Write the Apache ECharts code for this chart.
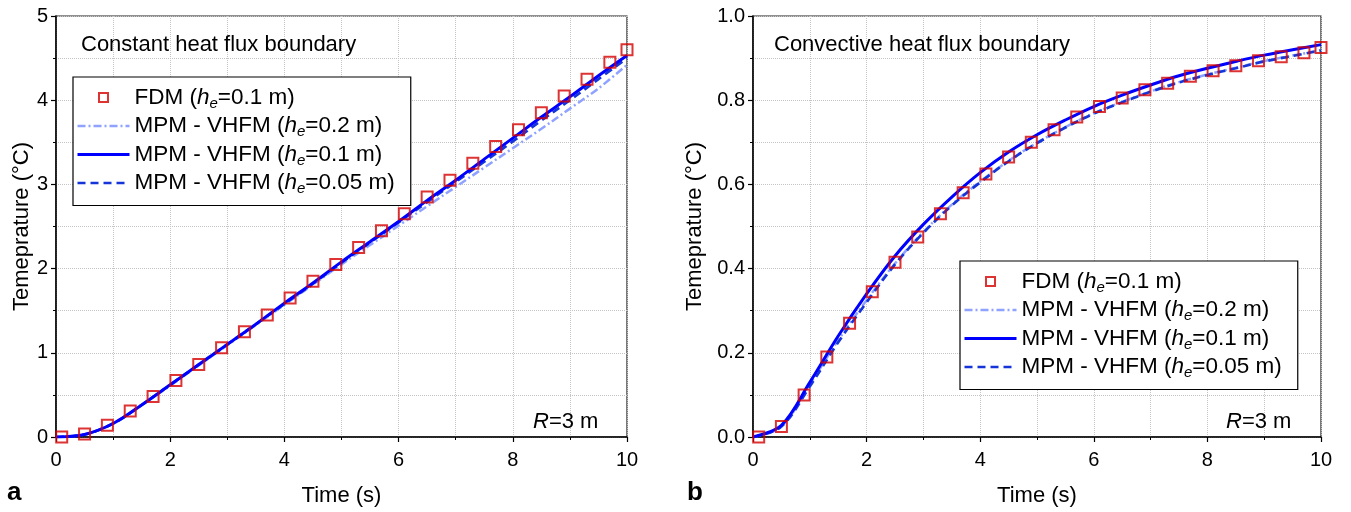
<!DOCTYPE html>
<html><head><meta charset="utf-8">
<script src="https://cdn.jsdelivr.net/npm/echarts@6/dist/echarts.min.js"></script>
<style>html,body{margin:0;padding:0;background:#fff}#c{width:1351px;height:512px}</style>
</head><body><div id="c"></div>
<script>
// ---- data ----
const tFDM = [0.1,0.5,0.9,1.3,1.7,2.1,2.5,2.9,3.3,3.7,4.1,4.5,4.9,5.3,5.7,6.1,6.5,6.9,7.3,7.7,8.1,8.5,8.9,9.3,9.7,10];
const fdmA = [0,0.035,0.14,0.31,0.48,0.67,0.86,1.06,1.25,1.45,1.65,1.85,2.05,2.25,2.45,2.65,2.85,3.05,3.25,3.45,3.65,3.85,4.05,4.25,4.45,4.6];
const fdmB = [0,0.025,0.10,0.19,0.27,0.345,0.415,0.475,0.53,0.58,0.625,0.665,0.70,0.73,0.76,0.785,0.805,0.825,0.84,0.857,0.87,0.882,0.894,0.903,0.913,0.925];
const tLine = [0,0.5,1,1.5,2,2.5,3,3.5,4,4.5,5,5.5,6,6.5,7,7.5,8,8.5,9,9.5,10];
const a02  = [0,0.03,0.16,0.38,0.61,0.85,1.09,1.33,1.57,1.81,2.05,2.28,2.51,2.74,2.97,3.2,3.43,3.66,3.9,4.14,4.42];
const a01  = [0,0.03,0.16,0.38,0.62,0.86,1.1,1.34,1.59,1.83,2.08,2.32,2.56,2.81,3.05,3.3,3.55,3.8,4.04,4.29,4.53];
const a005 = [0,0.03,0.16,0.38,0.62,0.86,1.1,1.34,1.58,1.82,2.07,2.31,2.55,2.79,3.03,3.27,3.51,3.76,4.0,4.25,4.5];
const b02  = [0,0.025,0.125,0.23,0.325,0.412,0.487,0.552,0.607,0.656,0.699,0.736,0.769,0.796,0.821,0.843,0.861,0.877,0.893,0.906,0.919];
const b01  = [0,0.028,0.13,0.24,0.34,0.43,0.505,0.57,0.628,0.677,0.718,0.753,0.785,0.812,0.836,0.858,0.876,0.892,0.907,0.92,0.932];
const b005 = [0,0.025,0.12,0.225,0.32,0.41,0.485,0.55,0.605,0.655,0.698,0.735,0.768,0.795,0.82,0.842,0.86,0.876,0.892,0.905,0.918];
const xTicksMax = 10;
const names = ['FDM (he=0.1 m)','MPM - VHFM (he=0.2 m)','MPM - VHFM (he=0.1 m)','MPM - VHFM (he=0.05 m)'];

const FONT = 'Liberation Sans, Arial, sans-serif';
const zip = (xs, ys) => xs.map((x, i) => [x, ys[i]]);
const LF = 22.5;
const richLeg = {
  n: {fontSize: LF, fontFamily: FONT, color: '#000', lineHeight: 22},
  i: {fontSize: LF, fontFamily: FONT, color: '#000', fontStyle: 'italic', lineHeight: 22},
  s: {fontSize: 15, fontFamily: FONT, color: '#000', fontStyle: 'italic', lineHeight: 10, padding: [12,0,0,0]}
};
function legFmt(name) {
  const m = name.match(/^(.*)\(he=(.*)\)$/);
  return '{n|' + m[1] + '(}{i|h}{s|e}{n|=' + m[2] + ')}';
}
function makeX(gi) {
  return {
    type: 'value', gridIndex: gi, min: 0, max: xTicksMax, interval: 2,
    name: 'Time (s)', nameLocation: 'middle', nameGap: 48,
    nameTextStyle: {fontSize: 22, fontFamily: FONT, color: '#000'},
    axisLine: {onZero: false, lineStyle: {color: '#000', width: 1.5}},
    axisTick: {show: true, inside: false, length: 5, lineStyle: {color: '#000', width: 1.2}},
    minorTick: {show: true, splitNumber: 2, length: 3, lineStyle: {color: '#000', width: 1}},
    axisLabel: {fontSize: 20, fontFamily: FONT, color: '#000', margin: 13},
    splitLine: {show: true, lineStyle: {color: '#c4c4c4', type: 'dotted', width: 1}},
    minorSplitLine: {show: true, lineStyle: {color: '#c4c4c4', type: 'dotted', width: 1}}
  };
}
function makeY(gi, max, interval, nameGap, dec) {
  return {
    type: 'value', gridIndex: gi, min: 0, max: max, interval: interval,
    name: 'Temeprature (°C)', nameLocation: 'middle', nameGap: nameGap,
    nameTextStyle: {fontSize: 22, fontFamily: FONT, color: '#000'},
    axisLine: {show: true, onZero: false, lineStyle: {color: '#000', width: 1.5}},
    axisTick: {show: true, inside: false, length: 5, lineStyle: {color: '#000', width: 1.2}},
    minorTick: {show: true, splitNumber: 2, length: 3, lineStyle: {color: '#000', width: 1}},
    axisLabel: {fontSize: 20, fontFamily: FONT, color: '#000', margin: 8,
      formatter: v => v.toFixed(dec)},
    splitLine: {show: true, lineStyle: {color: '#c4c4c4', type: 'dotted', width: 1}},
    minorSplitLine: {show: true, lineStyle: {color: '#c4c4c4', type: 'dotted', width: 1}}
  };
}
function seriesFor(gi, fdm, l02, l01, l005) {
  return [
    {name: names[1], type: 'line', xAxisIndex: gi, yAxisIndex: gi, data: zip(tLine, l02), smooth: 0.35,
     symbol: 'none', lineStyle: {color: '#8fa2ff', width: 2.5, type: [8,3,2,3]}, itemStyle: {color: '#8fa2ff'}},
    {name: names[3], type: 'line', xAxisIndex: gi, yAxisIndex: gi, data: zip(tLine, l005), smooth: 0.35,
     symbol: 'none', lineStyle: {color: '#1535d8', width: 2.7, type: [8,5]}, itemStyle: {color: '#1535d8'}},
    {name: names[2], type: 'line', xAxisIndex: gi, yAxisIndex: gi, data: zip(tLine, l01), smooth: 0.35,
     symbol: 'none', lineStyle: {color: '#0000ff', width: 3, type: 'solid'}, itemStyle: {color: '#0000ff'}},
    {name: names[0], type: 'scatter', xAxisIndex: gi, yAxisIndex: gi, data: zip(tFDM, fdm),
     symbol: 'rect', symbolSize: 11, z: 5,
     itemStyle: {color: 'rgba(0,0,0,0)', borderColor: '#d40000', borderWidth: 2}}
  ];
}
const hideSym = {color: 'rgba(0,0,0,0)', borderWidth: 0, opacity: 0};
function makeLegend(left, top) {
  return {
    left: left, top: top, orient: 'vertical', itemWidth: 52, itemHeight: 9, itemGap: 1.5,
    padding: [7, 16, 9, 3], borderColor: '#000', borderWidth: 1.2, backgroundColor: '#fff',
    selectedMode: false, formatter: legFmt,
    textStyle: {fontSize: LF, fontFamily: FONT, color: '#000', rich: richLeg},
    data: [
      {name: names[0], icon: 'path://M0,0H10V10H0Z'},
      {name: names[1], itemStyle: hideSym, lineStyle: {width: 2.6}},
      {name: names[2], itemStyle: hideSym, lineStyle: {width: 3}},
      {name: names[3], itemStyle: hideSym, lineStyle: {width: 2.7}}
    ]
  };
}
const txt = (x, y, parts) => ({
  type: 'text', left: x, top: y, z: 100,
  style: {text: parts, font: '22px ' + FONT, fill: '#000',
    rich: {i: {fontStyle: 'italic', fontSize: 22, fontFamily: FONT}, n: {fontSize: 22, fontFamily: FONT}}}
});
const chart = echarts.init(document.getElementById('c'), null, {renderer: 'canvas'});
chart.setOption({
  animation: false,
  backgroundColor: '#fff',
  grid: [
    {left: 56, right: 724, top: 16, bottom: 71, show: true, borderColor: '#222', borderWidth: 1.2, backgroundColor: 'transparent'},
    {left: 753, right: 30, top: 16, bottom: 71, show: true, borderColor: '#222', borderWidth: 1.2, backgroundColor: 'transparent'}
  ],
  xAxis: [makeX(0), makeX(1)],
  yAxis: [makeY(0, 5, 1, 23, 0), makeY(1, 1, 0.2, 47, 1)],
  legend: [makeLegend(73, 77), makeLegend(960, 261)],
  series: [].concat(seriesFor(0, fdmA, a02, a01, a005), seriesFor(1, fdmB, b02, b01, b005)),
  graphic: [
    txt(81, 34, 'Constant heat flux boundary'),
    txt(774, 34, 'Convective heat flux boundary'),
    txt(533, 411, '{i|R}{n|=3 m}'),
    txt(1226, 411, '{i|R}{n|=3 m}'),
    {type: 'text', left: 7, top: 480, style: {text: 'a', font: 'bold 26px ' + FONT, fill: '#000'}},
    {type: 'text', left: 687, top: 480, style: {text: 'b', font: 'bold 26px ' + FONT, fill: '#000'}}
  ]
});
</script></body></html>
